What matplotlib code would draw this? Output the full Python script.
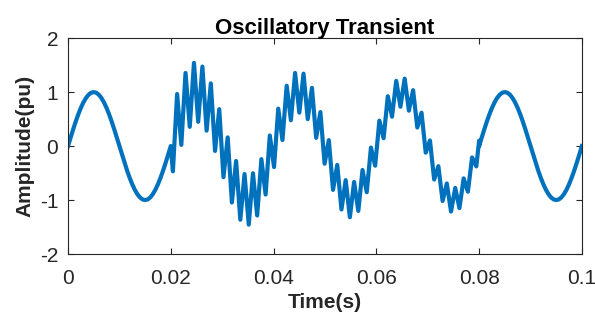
import numpy as np
import matplotlib
matplotlib.use("Agg")
from matplotlib import pyplot as plt

plt.rcParams['font.family'] = ['Liberation Sans', 'DejaVu Sans']
plt.rcParams['axes.unicode_minus'] = False

# clean 50 Hz cycle before the event (0 .. 0.02 s), read every 0.5 ms
t_pre = np.arange(0, 41) * 0.0005
y_pre = [0, 0.156, 0.309, 0.454, 0.588, 0.707, 0.809, 0.891, 0.951, 0.988,
         1.0, 0.988, 0.951, 0.891, 0.809, 0.707, 0.588, 0.454, 0.309, 0.156,
         0, -0.156, -0.309, -0.454, -0.588, -0.707, -0.809, -0.891, -0.951, -0.988,
         -1.0, -0.988, -0.951, -0.891, -0.809, -0.707, -0.588, -0.454, -0.309, -0.156,
         0]

# transient part (0.02 .. 0.08 s): peaks and dips of the ringing
t_tr = 0.02041 + np.arange(0, 73) * 0.00082
y_tr = [-0.468, 0.964, 0.022, 1.354, 0.356, 1.541, 0.450, 1.472, 0.286, 1.161,
        -0.090, 0.684, -0.576, 0.161, -1.044, -0.276, -1.364, -0.517, -1.455, -0.503,
        -1.285, -0.242, -0.897, 0.196, -0.389, 0.693, 0.112, 1.117, 0.479, 1.355,
        0.619, 1.341, 0.499, 1.078, 0.153, 0.630, -0.326, 0.110, -0.811, -0.349,
        -1.174, -0.631, -1.318, -0.664, -1.201, -0.443, -0.854, -0.028, -0.363, 0.471,
        0.146, 0.923, 0.544, 1.208, 0.729, 1.249, 0.656, 1.035, 0.344, 0.618,
        -0.122, 0.105, -0.619, -0.372, -1.017, -0.693, -1.212, -0.775, -1.149, -0.598,
        -0.845, -0.210, -0.376]
t_end = [0.08]
y_end = [0.10]

# clean cycle after the event (0.08 .. 0.1 s)
t_post = 0.08 + np.arange(0, 41) * 0.0005
y_post = [0, 0.156, 0.309, 0.454, 0.588, 0.707, 0.809, 0.891, 0.951, 0.988,
          1.0, 0.988, 0.951, 0.891, 0.809, 0.707, 0.588, 0.454, 0.309, 0.156,
          0, -0.156, -0.309, -0.454, -0.588, -0.707, -0.809, -0.891, -0.951, -0.988,
          -1.0, -0.988, -0.951, -0.891, -0.809, -0.707, -0.588, -0.454, -0.309, -0.156,
          0]

x_ticks = [0, 0.02, 0.04, 0.06, 0.08, 0.1]
x_labels = ['0', '0.02', '0.04', '0.06', '0.08', '0.1']
y_ticks = [-2, -1, 0, 1, 2]

t = np.concatenate([t_pre, t_tr, t_end, t_post])
y = np.concatenate([y_pre, y_tr, y_end, y_post])

fig = plt.figure(figsize=(5.95, 3.2), dpi=100)
ax = fig.add_axes([0.1143, 0.206, 0.8637, 0.675])

ax.plot(t, y, color='#0072BD', linewidth=3.0, solid_joinstyle='round')

ax.set_xlim(0, 0.1)
ax.set_ylim(-2, 2)
ax.set_xticks(x_ticks)
ax.set_xticklabels(x_labels)
ax.set_yticks(y_ticks)

gray = '#262626'
for s in ax.spines.values():
    s.set_color(gray)
    s.set_linewidth(0.8)
ax.tick_params(direction='in', top=True, right=True, length=4, width=0.8,
               colors=gray, labelsize=15)
ax.tick_params(axis='x', pad=11)
ax.tick_params(axis='y', pad=7)

ax.set_title('Oscillatory Transient', fontsize=16, fontweight='bold', color='black', pad=3)
ax.set_xlabel('Time(s)', fontsize=15, fontweight='bold', color=gray, labelpad=3)
ax.set_ylabel('Amplitude(pu)', fontsize=15, fontweight='bold', color=gray, labelpad=4)

fig.savefig('out.png', dpi=100)
